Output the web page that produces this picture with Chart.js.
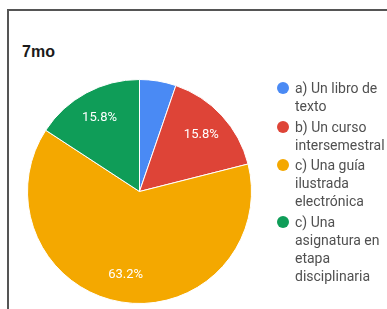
<!DOCTYPE html>
<html>
<head>
<meta charset="utf-8">
<script src="https://cdn.jsdelivr.net/npm/chart.js@4/dist/chart.umd.min.js"></script>
<style>
  html, body { margin: 0; padding: 0; background: #fff; width: 387px; height: 309px; overflow: hidden; }
  #frame { position: absolute; left: 7px; top: 9px; width: 420px; height: 400px; border: 2px solid #555; box-sizing: border-box; }
  #title { position: absolute; left: 22px; top: 44px; font: bold 16px "Liberation Sans", Arial, sans-serif; line-height: 16px; color: #1a1a1a; }
  #c { position: absolute; left: 0; top: 0; }
  #legend { position: absolute; left: 277px; top: 79px; font: 14px Roboto, "Noto Sans", sans-serif; line-height: 18px; color: #505050; }
  .item { position: relative; padding-left: 18px; margin-bottom: 2.5px; white-space: nowrap; }
  .dot { position: absolute; left: 0; top: 3px; width: 12px; height: 12px; border-radius: 50%; }
</style>
</head>
<body>
<div id="frame"></div>
<div id="title"></div>
<canvas id="c" width="387" height="309"></canvas>
<div id="legend"></div>
<script>
const chartTitle = "7mo";
const categories = [
  ["a) Un libro de", "texto"],
  ["b) Un curso", "intersemestral"],
  ["c) Una guía", "ilustrada", "electrónica"],
  ["c) Una", "asignatura en", "etapa", "disciplinaria"]
];
const counts = [1, 3, 12, 3];
const colors = ["#4a8af4", "#de4437", "#f4a800", "#0f9d58"];

document.getElementById("title").textContent = chartTitle;

const legendEl = document.getElementById("legend");
categories.forEach((lines, i) => {
  const item = document.createElement("div");
  item.className = "item";
  const dot = document.createElement("span");
  dot.className = "dot";
  dot.style.background = colors[i];
  item.appendChild(dot);
  lines.forEach((ln, j) => {
    if (j > 0) item.appendChild(document.createElement("br"));
    item.appendChild(document.createTextNode(ln));
  });
  legendEl.appendChild(item);
});

const pctLabels = {
  id: "pctLabels",
  afterDatasetsDraw(chart) {
    const ctx = chart.ctx;
    const data = chart.data.datasets[0].data;
    const total = data.reduce((a, b) => a + b, 0);
    const meta = chart.getDatasetMeta(0);
    ctx.save();
    ctx.font = "13px Roboto, sans-serif";
    ctx.fillStyle = "#ffffff";
    ctx.textAlign = "center";
    ctx.textBaseline = "middle";
    meta.data.forEach((arc, i) => {
      const p = data[i] / total * 100;
      if (p < 10) return;
      const { x, y, startAngle, endAngle, outerRadius } = arc.getProps(["x", "y", "startAngle", "endAngle", "outerRadius"], true);
      const mid = (startAngle + endAngle) / 2;
      const r = outerRadius * 0.75;
      ctx.fillText(p.toFixed(1) + "%", x + Math.cos(mid) * r, y + Math.sin(mid) * r);
    });
    ctx.restore();
  }
};

new Chart(document.getElementById("c"), {
  type: "pie",
  data: {
    labels: categories,
    datasets: [{
      data: counts,
      backgroundColor: colors,
      borderColor: "#ffffff",
      borderWidth: 1
    }]
  },
  options: {
    responsive: false,
    devicePixelRatio: 1,
    animation: false,
    layout: { padding: { left: 27, right: 135, top: 79, bottom: 5 } },
    plugins: {
      legend: { display: false },
      tooltip: { enabled: false },
      title: { display: false }
    }
  },
  plugins: [pctLabels]
});
</script>
</body>
</html>
